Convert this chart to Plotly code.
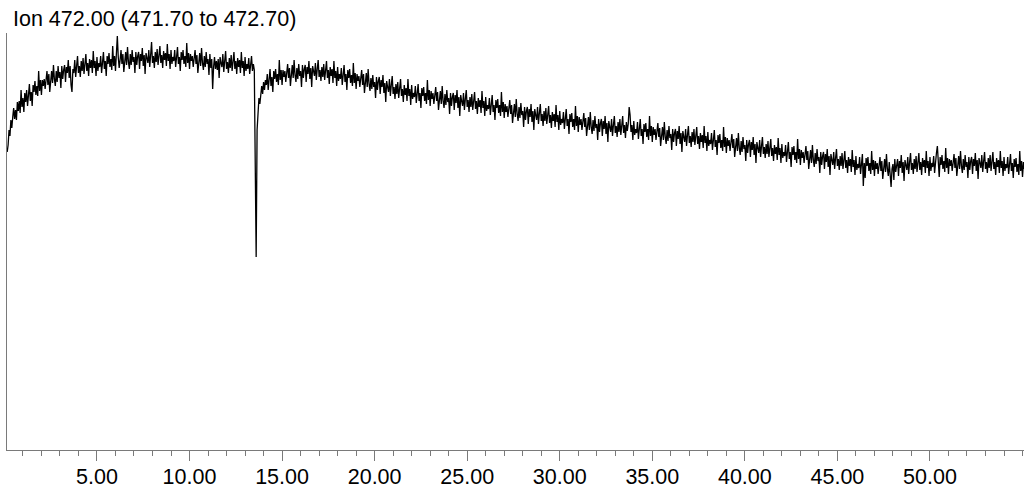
import plotly.graph_objects as go

# Extracted-ion chromatogram, Ion 472.00 (471.70 to 472.70)
title_text = "Ion 472.00 (471.70 to 472.70)"
scan_start = 0.15   # min
scan_step = 0.05    # min

# intensity (arbitrary units), 20 scans per row (one minute)
intensity_0_14 = [
    298, 305, 320, 314, 330, 322, 333, 342, 331, 340, 330, 348, 339, 349, 337, 360, 343, 352, 338, 357,
    348, 360, 344, 358, 366, 349, 358, 344, 365, 358, 369, 355, 364, 354, 379, 359, 370, 355, 370, 364,
    371, 361, 369, 379, 365, 376, 358, 374, 379, 367, 385, 371, 364, 379, 368, 384, 372, 378, 362, 384,
    371, 380, 385, 368, 383, 377, 390, 372, 384, 365, 358, 381, 377, 390, 373, 384, 394, 377, 384, 373,
    389, 379, 392, 376, 386, 396, 379, 387, 374, 391, 382, 390, 377, 399, 382, 389, 374, 393, 379, 387,
    383, 394, 377, 391, 398, 381, 389, 374, 394, 386, 397, 383, 391, 380, 404, 384, 394, 379, 394, 414,
    393, 382, 390, 400, 386, 396, 378, 393, 398, 385, 403, 388, 381, 396, 385, 400, 388, 393, 377, 398,
    385, 394, 398, 381, 396, 389, 402, 384, 395, 376, 397, 392, 387, 400, 383, 395, 408, 387, 394, 382,
    398, 388, 401, 385, 394, 404, 387, 395, 382, 399, 390, 397, 384, 406, 389, 396, 381, 400, 386, 393,
    389, 400, 383, 396, 403, 386, 393, 379, 398, 390, 400, 386, 394, 383, 407, 387, 397, 381, 396, 389,
    394, 383, 391, 400, 386, 395, 377, 392, 397, 384, 402, 387, 380, 394, 383, 398, 386, 391, 375, 396,
    382, 391, 361, 383, 393, 381, 389, 380, 391, 372, 393, 387, 383, 396, 378, 389, 399, 381, 388, 377,
    392, 382, 395, 379, 388, 398, 381, 389, 376, 392, 383, 390, 377, 398, 382, 389, 374, 393, 379, 386,
    381, 392, 376, 389, 394, 379, 386, 380, 300, 193, 320, 340, 352, 346, 359, 364, 356, 368, 360, 370,
]
intensity_14_35 = [
    365, 376, 360, 373, 381, 364, 373, 358, 379, 371, 381, 368, 376, 365, 390, 370, 380, 365, 380, 373,
    379, 368, 376, 386, 372, 382, 364, 379, 385, 372, 390, 375, 368, 382, 371, 386, 374, 379, 363, 385,
    372, 381, 385, 368, 383, 376, 389, 371, 382, 363, 384, 379, 374, 387, 370, 381, 390, 373, 380, 369,
    383, 373, 386, 370, 379, 389, 372, 380, 366, 383, 374, 381, 367, 389, 372, 379, 364, 383, 369, 376,
    371, 382, 365, 378, 385, 368, 376, 360, 380, 372, 381, 367, 375, 364, 387, 367, 377, 361, 376, 369,
    374, 363, 371, 380, 365, 376, 357, 372, 377, 363, 381, 366, 359, 372, 361, 375, 363, 368, 352, 373,
    360, 369, 373, 356, 370, 363, 375, 357, 367, 348, 369, 363, 358, 371, 354, 365, 374, 356, 363, 351,
    366, 356, 368, 352, 361, 371, 354, 361, 348, 365, 355, 362, 349, 371, 354, 361, 345, 365, 351, 357,
    353, 364, 347, 359, 366, 349, 357, 342, 362, 354, 363, 349, 357, 346, 370, 350, 360, 344, 359, 351,
    357, 346, 354, 363, 349, 358, 340, 355, 359, 346, 364, 349, 342, 356, 345, 360, 348, 352, 336, 357,
    344, 353, 357, 340, 355, 347, 360, 342, 353, 334, 355, 349, 344, 357, 340, 351, 360, 343, 350, 338,
    353, 343, 356, 340, 349, 358, 341, 349, 336, 352, 343, 350, 337, 359, 342, 349, 334, 353, 339, 345,
    341, 352, 335, 348, 355, 338, 345, 330, 350, 342, 351, 337, 345, 334, 358, 338, 348, 332, 346, 338,
    344, 333, 341, 350, 336, 345, 327, 342, 346, 333, 351, 336, 329, 343, 332, 347, 335, 339, 323, 343,
    330, 339, 343, 326, 341, 333, 346, 328, 339, 320, 341, 335, 330, 343, 326, 337, 346, 329, 336, 324,
    339, 329, 342, 326, 335, 344, 327, 335, 322, 338, 329, 336, 323, 345, 328, 335, 320, 339, 325, 331,
    327, 338, 321, 334, 341, 324, 331, 316, 336, 328, 337, 323, 331, 320, 344, 324, 334, 318, 333, 325,
    331, 320, 328, 337, 323, 332, 314, 329, 333, 320, 338, 323, 316, 330, 319, 334, 322, 326, 310, 331,
    318, 327, 331, 314, 329, 321, 334, 316, 327, 308, 329, 323, 318, 331, 314, 325, 334, 317, 324, 313,
    328, 318, 331, 315, 324, 334, 317, 325, 312, 328, 319, 326, 343, 335, 318, 325, 310, 329, 315, 321,
    317, 328, 311, 324, 331, 314, 321, 306, 326, 318, 327, 313, 321, 310, 334, 314, 324, 308, 323, 315,
]
intensity_35_55 = [
    321, 310, 318, 327, 313, 322, 304, 319, 323, 310, 328, 313, 306, 320, 309, 324, 312, 316, 300, 321,
    308, 317, 321, 304, 319, 311, 324, 306, 317, 298, 319, 313, 308, 321, 304, 315, 324, 307, 314, 303,
    318, 308, 321, 305, 314, 323, 306, 314, 301, 317, 308, 315, 302, 324, 307, 314, 299, 318, 304, 310,
    306, 317, 300, 313, 320, 303, 310, 295, 315, 307, 316, 302, 310, 299, 323, 303, 313, 297, 312, 304,
    310, 299, 307, 316, 302, 311, 293, 308, 312, 299, 317, 302, 295, 309, 298, 313, 301, 305, 289, 310,
    297, 306, 310, 293, 308, 300, 313, 295, 306, 287, 308, 302, 297, 310, 293, 304, 313, 296, 303, 292,
    306, 296, 309, 293, 302, 311, 294, 302, 289, 305, 296, 303, 290, 312, 295, 302, 287, 306, 292, 298,
    294, 305, 288, 301, 308, 291, 298, 283, 303, 295, 304, 290, 298, 287, 311, 291, 301, 285, 300, 292,
    298, 287, 295, 304, 290, 299, 281, 296, 300, 287, 305, 290, 283, 297, 286, 301, 289, 293, 277, 298,
    285, 294, 298, 281, 296, 288, 301, 283, 294, 275, 296, 290, 285, 298, 281, 292, 301, 284, 291, 280,
    294, 284, 297, 281, 290, 299, 282, 290, 277, 293, 284, 291, 278, 300, 283, 290, 275, 294, 280, 286,
    282, 293, 276, 289, 296, 264, 287, 272, 292, 284, 293, 279, 287, 276, 299, 280, 290, 274, 289, 281,
    287, 276, 284, 293, 279, 289, 271, 286, 291, 278, 296, 281, 274, 288, 277, 263, 281, 286, 270, 291,
    278, 287, 291, 274, 289, 282, 295, 277, 288, 269, 290, 285, 280, 293, 276, 288, 297, 280, 287, 276,
    291, 281, 294, 278, 287, 297, 280, 288, 275, 292, 283, 290, 277, 299, 282, 289, 274, 293, 279, 287,
    283, 294, 277, 290, 297, 304, 288, 273, 293, 285, 295, 281, 289, 278, 302, 282, 292, 276, 291, 284,
    290, 279, 287, 296, 282, 292, 274, 289, 294, 281, 299, 284, 277, 291, 280, 295, 283, 288, 272, 293,
    280, 289, 293, 276, 291, 284, 297, 279, 290, 271, 292, 287, 282, 295, 278, 289, 298, 281, 288, 277,
    292, 282, 295, 279, 288, 298, 281, 288, 275, 292, 283, 290, 277, 299, 282, 289, 274, 293, 279, 286,
    282, 293, 276, 289, 296, 279, 287, 272, 291, 283, 292, 278, 286, 275, 299, 279, 289, 273, 288, 281,
]

tick_vals = [5, 10, 15, 20, 25, 30, 35, 40, 45, 50]
tick_text = ["5.00", "10.00", "15.00", "20.00", "25.00", "30.00",
             "35.00", "40.00", "45.00", "50.00"]

intensity = intensity_0_14 + intensity_14_35 + intensity_35_55
times = [round(scan_start + scan_step * i, 3) for i in range(len(intensity))]

fig = go.Figure()
fig.add_trace(go.Scatter(
    x=times, y=intensity, mode="lines",
    line=dict(color="#000000", width=1.3),
    hoverinfo="x+y", showlegend=False,
))

axis_col = "#7a7a7a"
fig.update_layout(
    width=1024, height=501,
    margin=dict(l=7, r=0, t=33, b=51),
    paper_bgcolor="white", plot_bgcolor="white",
    font=dict(family="Liberation Sans, Arial, sans-serif", size=21.5, color="#000000"),
    xaxis=dict(
        range=[0.14, 55.08], showgrid=False, zeroline=False,
        showline=True, linecolor=axis_col, linewidth=1,
        tickmode="array", tickvals=tick_vals, ticktext=tick_text,
        ticks="outside", ticklen=10, tickcolor=axis_col, tickwidth=1,
        ticklabelstandoff=-3,
        tickfont=dict(size=21.5, color="#000000"),
        minor=dict(dtick=1, tick0=0, ticks="outside", ticklen=5,
                   tickcolor=axis_col, tickwidth=1, showgrid=False),
    ),
    yaxis=dict(
        range=[0, 417], showgrid=False, zeroline=False,
        showline=True, linecolor=axis_col, linewidth=1,
        showticklabels=False, ticks="",
    ),
    annotations=[dict(
        text=title_text, xref="paper", yref="paper",
        x=0.004, y=1.0, xanchor="left", yanchor="bottom", yshift=0,
        showarrow=False, font=dict(size=21.5, color="#000000"),
    )],
)

fig.write_html(
    "out.html",
    config={"displayModeBar": False},
    post_script="document.body.style.margin='0px';document.body.style.overflow='hidden';",
)
